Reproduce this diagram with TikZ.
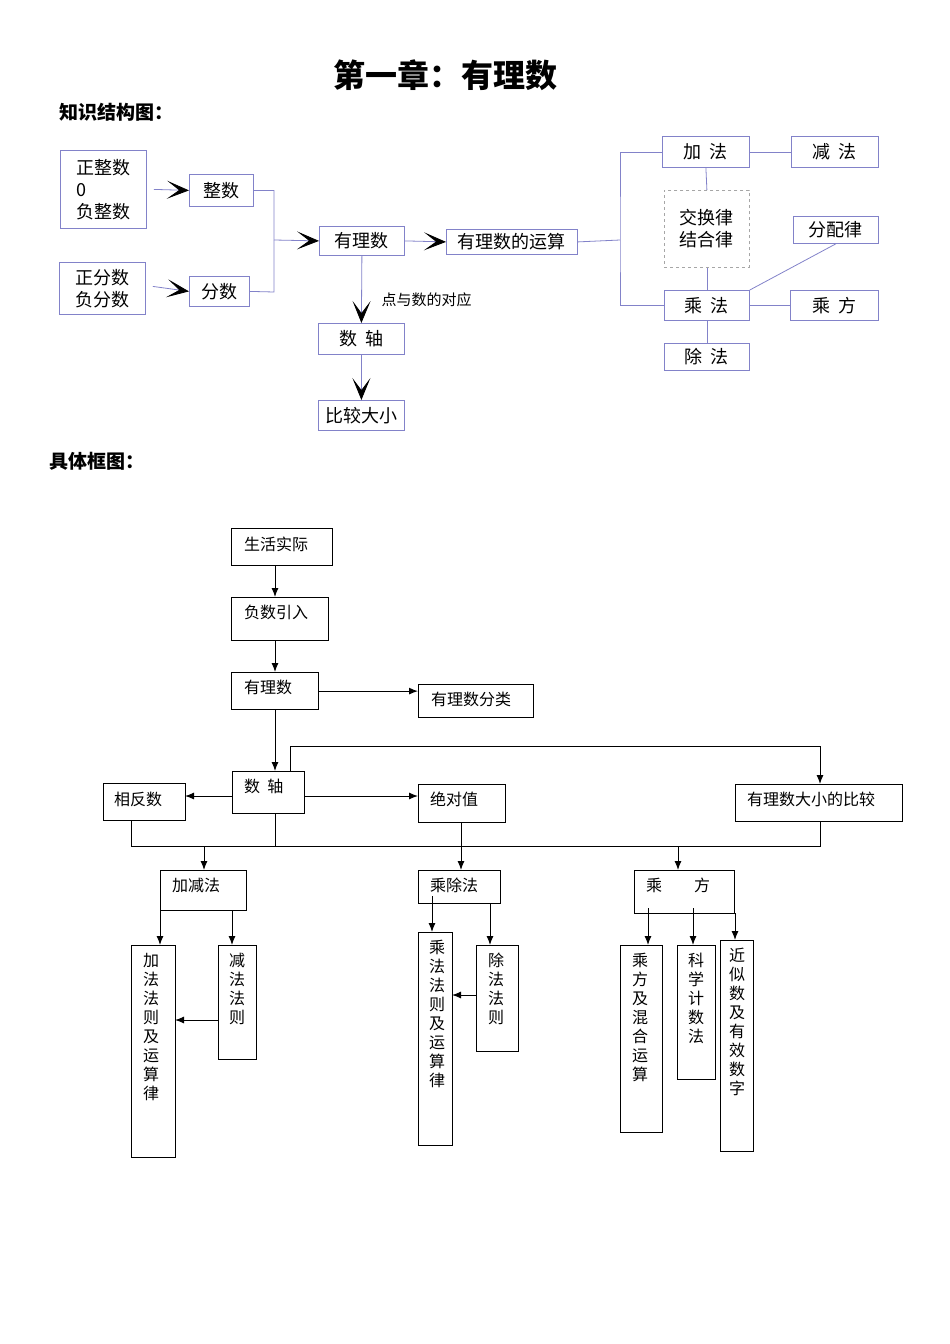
\documentclass[tikz,border=0pt]{standalone}
\usepackage{fontspec}
\setmainfont{Noto Sans CJK SC}
\usetikzlibrary{arrows.meta,calc}
\begin{document}
\begin{tikzpicture}[x=1pt,y=-1pt,
  tb/.style={draw=gray!60!blue!70,line width=0.8pt,inner sep=0pt,anchor=north west,font=\fontsize{18}{22}\selectfont},
  tl/.style={draw=gray!60!blue!70,line width=0.8pt},
  chev/.style={-{Stealth[length=22pt,width=18pt,inset=12pt,black]},line width=0.8pt},
  lb/.style={draw=black,line width=1.2pt,inner sep=0pt,anchor=north west},
  ll/.style={draw=black,line width=1pt},
  ar/.style={-{Latex[length=9pt,width=7pt]},line width=1pt},
  lt/.style={font=\fontsize{16}{19}\selectfont,anchor=north west,inner sep=0pt,align=center}]
\useasboundingbox (0,0) rectangle (950,1344);
\node[font=\fontsize{32}{36}\selectfont\bfseries] (title) at (445,75) {第一章：有理数};
\node[anchor=west,font=\fontsize{19}{22}\selectfont\bfseries] (h1) at (56,112) {知识结构图：};
\node[anchor=west,font=\fontsize{19}{22}\selectfont\bfseries] (h2) at (46,461) {具体框图：};
% ---------- top diagram
\node[tb,minimum width=86pt,minimum height=78pt,align=left] (zzs) at (60,150) {正整数\\0\\负整数};
\node[tb,minimum width=64pt,minimum height=32pt] (zs) at (189,174) {整数};
\node[tb,minimum width=86pt,minimum height=52pt,align=left] (zfs) at (59,262) {正分数\\负分数};
\node[tb,minimum width=60pt,minimum height=30pt] (fs) at (189,276) {分数};
\node[tb,minimum width=85pt,minimum height=29pt] (yls) at (319,226) {有理数};
\node[tb,minimum width=131pt,minimum height=25pt] (ys) at (446,229) {有理数的运算};
\node[tb,minimum width=86pt,minimum height=31pt] (sz) at (318,323) {数\ \ 轴};
\node[tb,minimum width=86pt,minimum height=30pt] (bj) at (318,400) {比较大小};
\node[anchor=west,font=\fontsize{15}{18}\selectfont] (dy) at (378,300) {点与数的对应};
\node[tb,minimum width=87pt,minimum height=31pt] (jf) at (662,136) {加\ \ 法};
\node[tb,minimum width=87pt,minimum height=31pt] (jianf) at (791,136) {减\ \ 法};
\node[tb,draw=gray!70,dashed,minimum width=85pt,minimum height=77pt,align=center] (jh) at (664,190) {交换律\\结合律};
\node[tb,minimum width=85pt,minimum height=27pt] (fp) at (793,216) {分配律};
\node[tb,minimum width=85pt,minimum height=30pt] (cf) at (664,290) {乘\ \ 法};
\node[tb,minimum width=88pt,minimum height=30pt] (cfang) at (790,290) {乘\ \ 方};
\node[tb,minimum width=85pt,minimum height=27pt] (chu) at (664,343) {除\ \ 法};
\coordinate (j1) at (274,190);
\coordinate (j2) at (274,292);
\coordinate (j3) at (274,240);
\coordinate (br) at (620,240);
\draw[tl] (zs.east) -| (j1) -- (j2) -- (fs.east);
\draw[tl,chev] (j3) -- (yls.west);
\draw[tl,chev] ($(zzs.east)+(7,0)$) -- (zs.west);
\draw[tl,chev] ($(zfs.east)+(7,-2)$) -- ($(fs.west)+(0,0)$);
\draw[tl,chev] (yls.east) -- (ys.west);
\draw[tl,chev] (yls.south) -- (sz.north);
\draw[tl,chev] (sz.south) -- (bj.north);
\draw[tl] (ys.east) -- (br);
\draw[tl] (jf.west) -| (br) |- (cf.west);
\draw[tl] (jf.east) -- (jianf.west);
\draw[tl] (jf.south) -- (jh.north);
\draw[tl] (jh.south) -- (cf.north);
\draw[tl] (cf.north east) -- (fp.south);
\draw[tl] (cf.east) -- (cfang.west);
\draw[tl] (cf.south) -- (chu.north);
% ---------- lower diagram
\node[lb,minimum width=101pt,minimum height=37pt] (sh) at (231,528) {};
\node[lt] at (244,537) {生活实际};
\node[lb,minimum width=97pt,minimum height=43pt] (fu) at (231,597) {};
\node[lt] at (244,605) {负数引入};
\node[lb,minimum width=87pt,minimum height=37pt] (yl) at (231,672) {};
\node[lt] at (244,680) {有理数};
\node[lb,minimum width=115pt,minimum height=33pt] (fl) at (418,684) {};
\node[lt] at (431,692) {有理数分类};
\node[lb,minimum width=72pt,minimum height=42pt] (zh) at (232,771) {};
\node[lt] at (244,779) {数\ \ 轴};
\node[lb,minimum width=82pt,minimum height=37pt] (xf) at (103,783) {};
\node[lt] at (114,792) {相反数};
\node[lb,minimum width=87pt,minimum height=38pt] (jd) at (418,784) {};
\node[lt] at (430,792) {绝对值};
\node[lb,minimum width=167pt,minimum height=37pt] (dx) at (735,784) {};
\node[lt] at (747,792) {有理数大小的比较};
\node[lb,minimum width=86pt,minimum height=40pt] (jj) at (160,870) {};
\node[lt] at (172,878) {加减法};
\node[lb,minimum width=82pt,minimum height=33pt] (cc) at (418,870) {};
\node[lt] at (430,878) {乘除法};
\node[lb,minimum width=100pt,minimum height=43pt] (cfx) at (634,870) {};
\node[lt] at (646,878) {乘\qquad 方};
\node[lb,minimum width=44pt,minimum height=212pt] (b1) at (131,945) {};
\node[lt] at (143,953) {加\\法\\法\\则\\及\\运\\算\\律};
\node[lb,minimum width=38pt,minimum height=114pt] (b2) at (218,945) {};
\node[lt] at (229,953) {减\\法\\法\\则};
\node[lb,minimum width=34pt,minimum height=213pt] (b3) at (418,932) {};
\node[lt] at (429,940) {乘\\法\\法\\则\\及\\运\\算\\律};
\node[lb,minimum width=42pt,minimum height=106pt] (b4) at (476,945) {};
\node[lt] at (488,953) {除\\法\\法\\则};
\node[lb,minimum width=42pt,minimum height=187pt] (b5) at (620,945) {};
\node[lt] at (632,953) {乘\\方\\及\\混\\合\\运\\算};
\node[lb,minimum width=38pt,minimum height=134pt] (b6) at (677,945) {};
\node[lt] at (688,953) {科\\学\\计\\数\\法};
\node[lb,minimum width=33pt,minimum height=211pt] (b7) at (720,940) {};
\node[lt] at (729,948) {近\\似\\数\\及\\有\\效\\数\\字};
\draw[ll,ar] (sh.south -| 275,0) -- (275,597);
\draw[ll,ar] (275,640) -- (275,672);
\draw[ll,ar] (yl.east) -- (fl.west |- yl.east);
\draw[ll,ar] (275,709) -- (275,771);
\coordinate (t1) at (290,746);
\draw[ll,ar] (290,771) -- (t1) -- (820,746) -- (820,784);
\draw[ll,ar] (232,796) -- (185,796);
\draw[ll,ar] (304,796) -- (418,796);
\draw[ll] (131,820) -- (131,846) -- (820,846) -- (820,821);
\draw[ll] (275,813) -- (275,846);
\draw[ll,ar] (461,822) -- (461,870);
\draw[ll,ar] (204,846) -- (204,870);
\draw[ll,ar] (678,846) -- (678,870);
\draw[ll,ar] (160,910) -- (160,945);
\draw[ll,ar] (232,910) -- (232,945);
\draw[ll,ar] (218,1020) -- (175,1020);
\draw[ll,ar] (432,896) -- (432,932);
\draw[ll,ar] (490,903) -- (490,945);
\draw[ll,ar] (476,995) -- (452,995);
\draw[ll,ar] (648,908) -- (648,945);
\draw[ll,ar] (693,908) -- (693,945);
\draw[ll,ar] (735,913) -- (735,940);
\end{tikzpicture}
\end{document}
